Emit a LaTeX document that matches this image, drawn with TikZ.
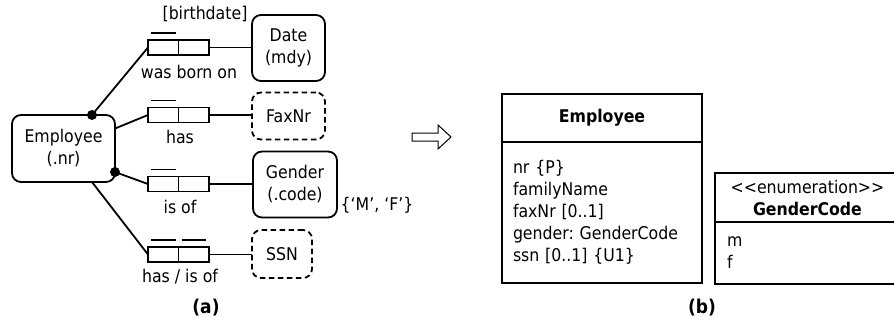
\documentclass[tikz,border=0pt]{standalone}
\usepackage{fontspec}
\setmainfont{DejaVu Sans Condensed}
\usetikzlibrary{positioning}

\newcommand{\fonte}{\fontsize{17.5}{22}\selectfont}

\begin{document}
\frenchspacing
\begin{tikzpicture}[x=1pt, y=-1pt, line width=1.8pt,
    every node/.style={font=\fonte, inner sep=0pt, outer sep=0pt},
    tipo/.style={draw, rounded corners=9pt, align=center, minimum width=73pt},
    valor/.style={tipo, dash pattern=on 5.5pt off 3.5pt},
    papel/.style={draw, minimum width=30.5pt, minimum height=15pt},
    ponto/.style={circle, fill, minimum size=10pt},
    classe/.style={draw, minimum width=200pt},
    negrito/.style={font=\fonte\bfseries}]

        \clip[use as bounding box] (0,0) rectangle (894,322);

        % Tipos de objeto
        \node[tipo, minimum width=103pt, minimum height=67pt] (emp) at (63.5,148.5) {Employee\\(.nr)};
        \node[tipo, minimum height=66pt] (date) at (288.5,48) {Date\\(mdy)};
        \node[valor, minimum height=47pt] (fax) at (288.5,116) {FaxNr};
        \node[tipo, minimum width=84pt, minimum height=66pt] (gender) at (295,184.5) {Gender\\(.code)};
        \node[valor, minimum width=60pt, minimum height=48pt] (ssn) at (282,254) {SSN};
        \node (genVal) at (377,205) {\{‘M’, ‘F’\}};

        % Papeis
        \node[papel] (bornA) at (163.25,47.5) {};
        \node[papel, right=0pt of bornA] (bornB) {};
        \node[papel] (hasA) at (163.25,115) {};
        \node[papel, right=0pt of hasA] (hasB) {};
        \node[papel] (isA) at (163.25,184) {};
        \node[papel, right=0pt of isA] (isB) {};
        \node[papel] (ssnA) at (163.25,254.5) {};
        \node[papel, right=0pt of ssnA] (ssnB) {};

        % Restricoes de unicidade
        \draw ([shift={(3,-7)}]bornA.north west) -- ([shift={(-3,-7)}]bornA.north east);
        \draw ([shift={(3,-7)}]hasA.north west) -- ([shift={(-3,-7)}]hasA.north east);
        \draw ([shift={(3,-7)}]isA.north west) -- ([shift={(-3,-7)}]isA.north east);
        \draw ([shift={(3,-7)}]ssnA.north west) -- ([shift={(-3,-7)}]ssnA.north east);
        \draw ([shift={(3,-7)}]ssnB.north west) -- ([shift={(-3,-7)}]ssnB.north east);

        % Leituras
        \node (birth) at (205,14) {[birthdate]};
        \node (bornTxt) at (189,72) {was born on};
        \node (hasTxt) at (180,137) {has};
        \node (isTxt) at (180,207) {is of};
        \node (ssnTxt) at (180,277) {has / is of};

        % Papeis obrigatorios
        \node[ponto] (dot1) at (92,115) {};
        \node[ponto] (dot2) at (115,172) {};

        % Ligacoes
        \draw (dot1.center) -- (bornA.west);
        \draw ([yshift=20pt]emp.east) -- (hasA.west);
        \draw (dot2.center) -- (isA.west);
        \draw ([xshift=28.5pt]emp.south) -- (ssnA.west);
        \draw (bornB.east) -- (bornB.east -| date.west);
        \draw (hasB.east) -- (hasB.east -| fax.west);
        \draw (isB.east) -- (isB.east -| gender.west);
        \draw (ssnB.east) -- (ssnB.east -| ssn.west);

        % Seta de mapeamento
        \draw[line width=1pt] (412,133) -- (438,133) -- (438,125) -- (451,137) -- (438,149) -- (438,141) -- (412,141) -- cycle;

        % Classes UML
        \node[classe, negrito, minimum height=48pt] (cEmp) at (602,118) {Employee};
        \node[classe, minimum height=141pt, below=0pt of cEmp, align=left, text width=178pt] (cEmpAttr)
            {nr \{P\}\\familyName\\faxNr [0..1]\\gender: GenderCode\\ssn [0..1] \{U1\}};
        \node[classe, minimum width=185pt, minimum height=49pt, align=center] (cGen) at (807.5,197.5)
            {<\kern0pt<enumeration>\kern0pt>\\\textbf{GenderCode}};
        \node[classe, minimum width=185pt, minimum height=62pt, below=0pt of cGen, align=left, text width=161pt] (cGenVal) {m\\f};

        % Legendas
        \node[font=\fontsize{19}{22}\selectfont\bfseries] (capA) at (206,308) {(a)};
        \node[font=\fontsize{19}{22}\selectfont\bfseries] (capB) at (702,308) {(b)};

\end{tikzpicture}
\end{document}
